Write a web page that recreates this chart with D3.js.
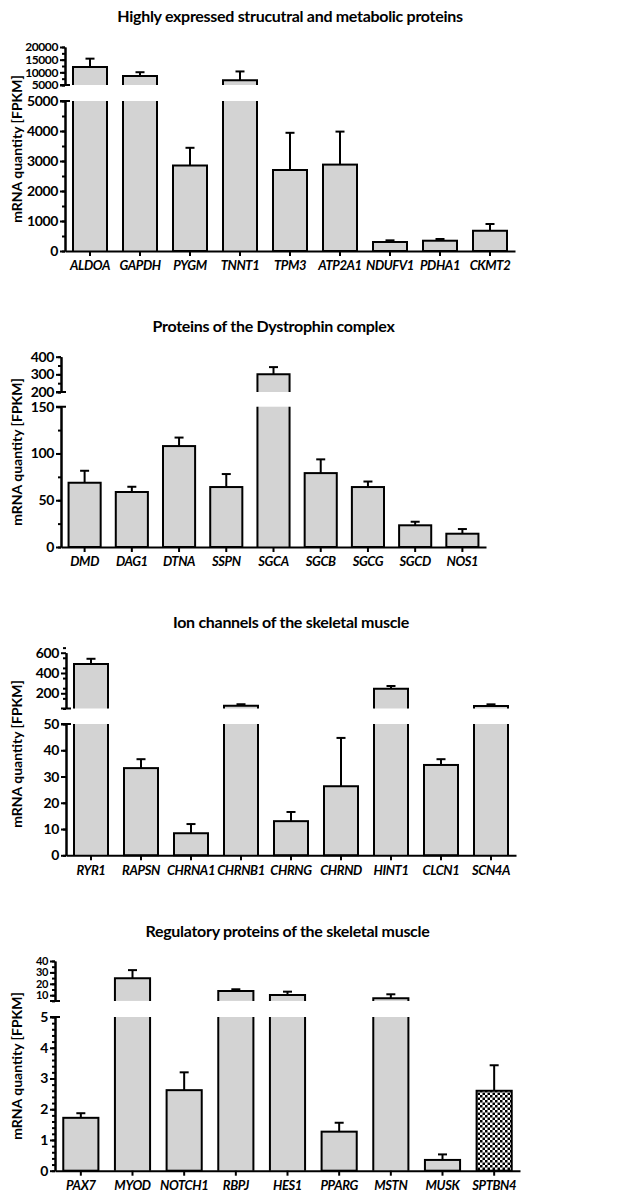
<!DOCTYPE html>
<html>
<head>
<meta charset="utf-8">
<script src="https://cdn.jsdelivr.net/npm/d3@7"></script>
<style>
  body { margin: 0; background: #fff; }
  svg { display: block; font-family: Lato, "Open Sans", sans-serif; }
</style>
</head>
<body>
<svg id="chart" width="631" height="1192"></svg>
<script>
// values (mean, upper error = SD)
const genes1 = ["ALDOA", "GAPDH", "PYGM", "TNNT1", "TPM3", "ATP2A1", "NDUFV1", "PDHA1", "CKMT2"];
const means1 = [12100, 8600, 2850, 6900, 2700, 2880, 300, 343, 675];
const errs1 = [3300, 1450, 590, 3450, 1240, 1100, 55, 57, 225];

const genes2 = ["DMD", "DAG1", "DTNA", "SSPN", "SGCA", "SGCB", "SGCG", "SGCD", "NOS1"];
const means2 = [68.7, 58.8, 107.9, 64.1, 300, 79, 64.1, 23.2, 14.2];
const errs2 = [12.8, 5.6, 9.1, 13.9, 41, 14.7, 5.9, 3.8, 5];

const genes3 = ["RYR1", "RAPSN", "CHRNA1", "CHRNB1", "CHRNG", "CHRND", "HINT1", "CLCN1", "SCN4A"];
const means3 = [488, 33.2, 8.4, 77, 13, 26.3, 245, 34.4, 75];
const errs3 = [52, 3.4, 3.5, 15, 3.5, 18.4, 27, 2.2, 16];

const genes4 = ["PAX7", "MYOD", "NOTCH1", "RBPJ", "HES1", "PPARG", "MSTN", "MUSK", "SPTBN4"];
const means4 = [1.72, 24.8, 2.62, 13.7, 10.2, 1.27, 7.3, 0.35, 2.6];
const errs4 = [0.15, 7.2, 0.58, 1.5, 2.9, 0.29, 3.5, 0.18, 0.83];

// tick values for the lower and upper (broken) y segments
const lowTicks1 = [0, 1000, 2000, 3000, 4000, 5000];
const highTicks1 = [5000, 10000, 15000, 20000];
const lowTicks2 = [0, 50, 100, 150];
const highTicks2 = [200, 300, 400];
const lowTicks3 = [0, 10, 20, 30, 40, 50];
const highTicks3 = [200, 400, 600];
const lowTicks4 = [0, 1, 2, 3, 4, 5];
const highTicks4 = [10, 20, 30, 40];

const svg = d3.select("#chart");
const barFill = "#d3d3d3";

const defs = svg.append("defs");
const checker = defs.append("pattern")
  .attr("id", "checker")
  .attr("patternUnits", "userSpaceOnUse")
  .attr("width", 5).attr("height", 5);
checker.append("rect").attr("width", 5).attr("height", 5).attr("fill", "#fff");
checker.append("rect").attr("width", 2.5).attr("height", 2.5).attr("fill", "#000");
checker.append("rect").attr("x", 2.5).attr("y", 2.5).attr("width", 2.5).attr("height", 2.5).attr("fill", "#000");

const panels = [
  {
    title: "Highly expressed strucutral and metabolic proteins",
    genes: genes1, means: means1, errs: errs1,
    x0: 65, x1: 515, titleY: 22,
    low: [0, 5000], lowY: [251, 101], lowTicks: lowTicks1, lowMinor: 500,
    high: [5000, 20000], highY: [85, 47], highTicks: highTicks1, highMinor: 2500, highFont: 12,
    labelY: 149,
  },
  {
    title: "Proteins of the Dystrophin complex",
    genes: genes2, means: means2, errs: errs2,
    x0: 61, x1: 486, titleY: 332,
    low: [0, 150], lowY: [547, 406.7], lowTicks: lowTicks2, lowMinor: 25,
    high: [200, 400], highY: [392, 356.7], highTicks: highTicks2, highMinor: 50, highFont: 14,
    labelY: 452,
  },
  {
    title: "Ion channels of the skeletal muscle",
    genes: genes3, means: means3, errs: errs3,
    x0: 66, x1: 516, titleY: 628,
    low: [0, 50], lowY: [855.3, 724], lowTicks: lowTicks3, lowMinor: 10,
    high: [50, 600], highY: [708.5, 652.7], highTicks: highTicks3, highMinor: 100, highFont: 14,
    labelY: 754,
  },
  {
    title: "Regulatory proteins of the skeletal muscle",
    genes: genes4, means: means4, errs: errs4,
    x0: 55, x1: 520, titleY: 937,
    low: [0, 5], lowY: [1170.7, 1017], lowTicks: lowTicks4, lowMinor: 0.2,
    high: [5, 40], highY: [1000.9, 961], highTicks: highTicks4, highMinor: 5, highFont: 11,
    labelY: 1066,
    patterned: ["SPTBN4"],
  },
];

function minorValues([lo, hi], step) {
  const n = Math.round((hi - lo) / step);
  return d3.range(n + 1).map(i => +(lo + i * step).toFixed(6));
}

function styleAxis(g) {
  g.select(".domain").attr("stroke", "#000").attr("stroke-width", 2);
  g.selectAll(".tick line").attr("stroke", "#000").attr("stroke-width", 2);
  g.selectAll(".tick text")
    .attr("fill", "#000")
    .style("font-family", "Lato, sans-serif")
    .style("font-weight", "bold")
    .style("letter-spacing", "-0.4px");
}

function drawYSegment(g, scale, ticks, minor, x0, fontSize) {
  g.append("g")
    .attr("transform", `translate(${x0},0)`)
    .call(d3.axisLeft(scale).tickValues(minorValues(scale.domain(), minor)).tickSize(3).tickSizeOuter(0).tickFormat(""))
    .call(styleAxis);
  g.append("g")
    .attr("transform", `translate(${x0},0)`)
    .call(d3.axisLeft(scale).tickValues(ticks).tickSize(5).tickSizeOuter(0).tickPadding(2).tickFormat(d => String(d)))
    .call(styleAxis)
    .call(a => a.selectAll(".tick text").style("font-size", fontSize + "px"));
}

function drawPanel(p) {
  const g = svg.append("g");
  const x = d3.scaleBand().domain(p.genes).range([p.x0, p.x1]).paddingInner(0.32).paddingOuter(0.16);
  const yLow = d3.scaleLinear().domain(p.low).range(p.lowY);
  const yHigh = d3.scaleLinear().domain(p.high).range(p.highY);
  const data = p.genes.map((gene, i) => ({gene, mean: p.means[i], err: p.errs[i]}));
  const lowMax = p.low[1];
  const bw = x.bandwidth();
  const cap = 4.5;

  g.append("text")
    .attr("x", (p.x0 + p.x1) / 2)
    .attr("y", p.titleY)
    .attr("text-anchor", "middle")
    .style("font-size", "16px")
    .style("font-weight", "bold")
    .style("letter-spacing", "-0.3px")
    .text(p.title);

  g.append("text")
    .attr("transform", `translate(22,${p.labelY}) rotate(-90)`)
    .attr("text-anchor", "middle")
    .style("font-size", "14px")
    .style("font-weight", "bold")
    .text("mRNA quantity [FPKM]");

  // error bars (upper only)
  const yOf = v => (v > lowMax ? yHigh(v) : yLow(v));
  const errs = g.append("g").attr("stroke", "#000").attr("stroke-width", 2);
  data.forEach(d => {
    const cx = x(d.gene) + bw / 2;
    const top = yOf(d.mean + d.err);
    errs.append("line").attr("x1", cx).attr("x2", cx).attr("y1", yOf(d.mean)).attr("y2", top);
    errs.append("line").attr("x1", cx - cap).attr("x2", cx + cap).attr("y1", top).attr("y2", top);
  });

  const bars = g.append("g");
  data.forEach(d => {
    const left = x(d.gene);
    const fill = (p.patterned || []).includes(d.gene) ? "url(#checker)" : barFill;
    if (d.mean <= lowMax) {
      bars.append("rect")
        .attr("x", left).attr("y", yLow(d.mean))
        .attr("width", bw).attr("height", yLow(0) - yLow(d.mean))
        .attr("fill", fill).attr("stroke", "#000").attr("stroke-width", 2);
    } else {
      // lower piece, open at the break
      bars.append("rect")
        .attr("x", left).attr("y", yLow(lowMax))
        .attr("width", bw).attr("height", yLow(0) - yLow(lowMax))
        .attr("fill", fill);
      bars.append("path")
        .attr("d", `M${left},${yLow(0)}V${yLow(lowMax)}M${left + bw},${yLow(0)}V${yLow(lowMax)}`)
        .attr("fill", "none").attr("stroke", "#000").attr("stroke-width", 2);
      // upper piece
      const yb = yHigh(p.high[0]);
      const yt = yHigh(d.mean);
      bars.append("rect")
        .attr("x", left).attr("y", yt)
        .attr("width", bw).attr("height", yb - yt)
        .attr("fill", fill);
      bars.append("path")
        .attr("d", `M${left},${yb}V${yt}H${left + bw}V${yb}`)
        .attr("fill", "none").attr("stroke", "#000").attr("stroke-width", 2);
    }
  });

  drawYSegment(g, yLow, p.lowTicks, p.lowMinor, p.x0, 14);
  drawYSegment(g, yHigh, p.highTicks, p.highMinor, p.x0, p.highFont);

  // break marks
  g.append("path")
    .attr("d", `M${p.x0 - 5},${yHigh(p.high[0])}H${p.x0 + 5}M${p.x0 - 5},${yLow(lowMax)}H${p.x0 + 5}`)
    .attr("stroke", "#000").attr("stroke-width", 2);

  g.append("g")
    .attr("transform", `translate(0,${yLow(0)})`)
    .call(d3.axisBottom(x).tickSize(5).tickSizeOuter(0).tickPadding(5))
    .call(styleAxis)
    .call(a => a.selectAll(".tick text").style("font-size", "13px").style("font-style", "italic"));
}

panels.forEach(drawPanel);
</script>
</body>
</html>
